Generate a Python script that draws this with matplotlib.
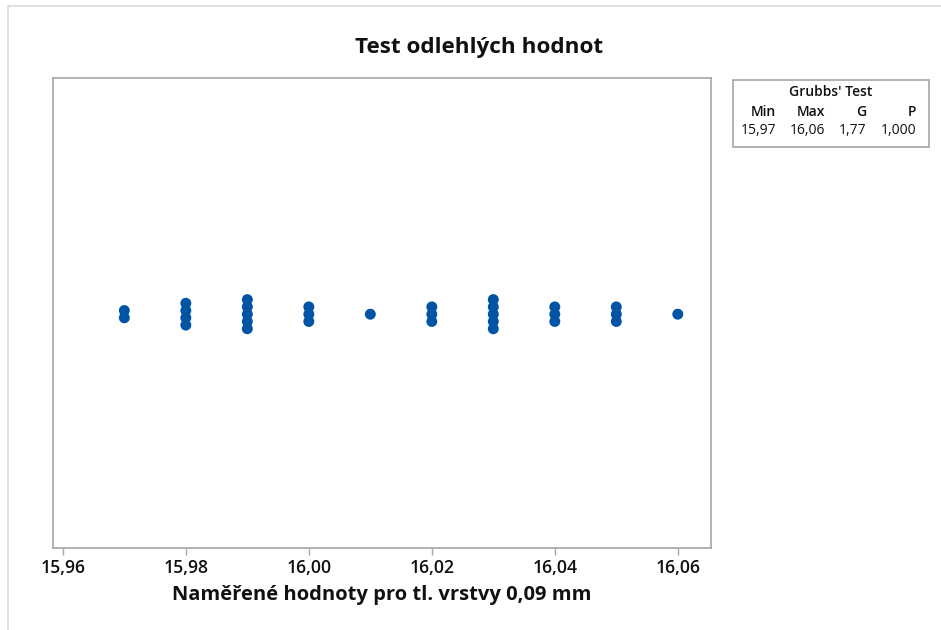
import matplotlib
matplotlib.use("Agg")
import matplotlib.pyplot as plt
from matplotlib.patches import Rectangle
from matplotlib.ticker import FuncFormatter

# Data: measured values (x) and how many observations share each value
values = [15.97, 15.98, 15.99, 16.00, 16.01, 16.02, 16.03, 16.04, 16.05, 16.06]
counts = [2, 4, 5, 3, 1, 3, 5, 3, 3, 1]
xticks = [15.96, 15.98, 16.00, 16.02, 16.04, 16.06]

title = "Test odlehlých hodnot"
xlabel = "Naměřené hodnoty pro tl. vrstvy 0,09 mm"
table_title = "Grubbs' Test"
table_header = ["Min", "Max", "G", "P"]
table_values = ["15,97", "16,06", "1,77", "1,000"]

plt.rcParams['font.family'] = ['Open Sans', 'DejaVu Sans']

W, H = 941, 630
fig = plt.figure(figsize=(W / 100, H / 100), dpi=100)

# outer light frame
fig.patches.append(Rectangle((8 / W, -0.1), 1.2, 1 - 6 / H + 0.1, transform=fig.transFigure,
                             fill=False, edgecolor='#d9d9d9', linewidth=1.2))

ax = fig.add_axes([53 / W, 1 - 548 / H, (711 - 53) / W, (548 - 78) / H])

blue = '#0054A6'
spacing = 0.031
xs, ys = [], []
for v, n in zip(values, counts):
    for i in range(n):
        xs.append(v)
        ys.append((i - (n - 1) / 2) * spacing)
ax.scatter(xs, ys, s=62, color=blue, edgecolors='none', zorder=3)

ax.set_xlim(15.9584, 16.0654)
ax.set_ylim(-0.995, 1.005)
ax.set_yticks([])
ax.set_xticks(xticks)
ax.xaxis.set_major_formatter(FuncFormatter(lambda v, p: f"{v:.2f}".replace('.', ',')))
for s in ax.spines.values():
    s.set_color('#a6a6a6')
    s.set_linewidth(1.2)
ax.tick_params(axis='x', direction='out', length=5, width=1, color='#a6a6a6',
               labelsize=12.7, pad=3, labelcolor='#111111')
for lbl in ax.get_xticklabels():
    lbl.set_fontweight('semibold')

ax.set_xlabel(xlabel, fontsize=14.5, fontweight='bold', color='#111111', labelpad=6)

fig.text(479 / W, 1 - 48 / H, title, ha='center', va='center', fontsize=16.2,
         fontweight='bold', color='#111111')

# Grubbs' test table
fig.patches.append(Rectangle((733 / W, 1 - 147 / H), (929 - 733) / W, (147 - 80) / H,
                             transform=fig.transFigure, fill=False,
                             edgecolor='#a6a6a6', linewidth=1.2))
fig.text(831 / W, 1 - 92 / H, table_title, ha='center', va='center', fontsize=10,
         fontweight='semibold', color='#111111')
col_right = [776, 825, 866, 916]
for xr, h, v in zip(col_right, table_header, table_values):
    fig.text(xr / W, 1 - 112 / H, h, ha='right', va='center', fontsize=10,
             fontweight='semibold', color='#111111')
    fig.text(xr / W, 1 - 131 / H, v, ha='right', va='center', fontsize=10,
             color='#111111')

fig.savefig("out.png", dpi=100)
